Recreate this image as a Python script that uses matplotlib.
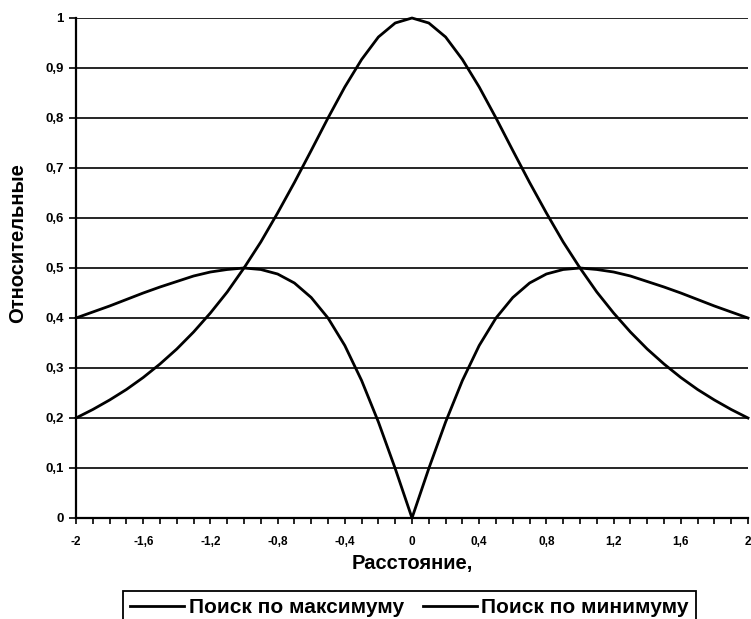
import matplotlib.pyplot as plt

# distance values, step 0.1 from -2 to 2
x = [round(-2 + 0.1 * i, 1) for i in range(41)]

# right half (0 .. 2), mirrored for the left half
max_half = [1.000, 0.990, 0.962, 0.917, 0.862, 0.800, 0.735, 0.671, 0.610, 0.552, 0.500,
            0.452, 0.410, 0.372, 0.338, 0.308, 0.281, 0.257, 0.236, 0.217, 0.200]
min_half = [0.000, 0.099, 0.192, 0.275, 0.345, 0.400, 0.441, 0.470, 0.488, 0.497, 0.500,
            0.497, 0.492, 0.484, 0.473, 0.462, 0.450, 0.437, 0.424, 0.412, 0.400]
search_max = max_half[:0:-1] + max_half
search_min = min_half[:0:-1] + min_half

x_ticks = [-2, -1.6, -1.2, -0.8, -0.4, 0, 0.4, 0.8, 1.2, 1.6, 2]
x_labels = ["-2", "-1,6", "-1,2", "-0,8", "-0,4", "0", "0,4", "0,8", "1,2", "1,6", "2"]
y_ticks = [0, 0.1, 0.2, 0.3, 0.4, 0.5, 0.6, 0.7, 0.8, 0.9, 1]
y_labels = ["0", "0,1", "0,2", "0,3", "0,4", "0,5", "0,6", "0,7", "0,8", "0,9", "1"]

plt.rcParams['font.family'] = ['Liberation Sans', 'DejaVu Sans']
plt.rcParams['font.weight'] = 'bold'

fig = plt.figure(figsize=(7.51, 6.19), dpi=100)
ax = fig.add_axes([76 / 751, 1 - 518 / 619, 672 / 751, 500 / 619])

ax.plot(x, search_max, color='black', lw=2.0, label='Поиск по максимуму', clip_on=False)
ax.plot(x, search_min, color='black', lw=2.0, label='Поиск по минимуму', clip_on=False)

ax.set_xlim(-2, 2)
ax.set_ylim(0, 1)
ax.set_xticks(x_ticks)
ax.set_xticklabels(x_labels, fontsize=8.5, fontweight='bold')
ax.set_xticks(x, minor=True)
ax.set_yticks(y_ticks)
ax.set_yticklabels(y_labels, fontsize=9.5, fontweight='bold')
ax.tick_params(axis='x', which='both', direction='out', length=4, width=1.2, pad=9)
ax.tick_params(axis='y', direction='out', length=5, width=1.2, pad=4)

ax.grid(axis='y', color='black', lw=1.2)
ax.set_axisbelow(True)
for s in ['top', 'right']:
    ax.spines[s].set_visible(False)
for s in ['left', 'bottom']:
    ax.spines[s].set_linewidth(1.6)

ax.set_xlabel('Расстояние,', fontsize=14.5, fontweight='bold', labelpad=4)
ax.set_ylabel('Относительные', fontsize=14.5, fontweight='bold')
ax.yaxis.set_label_coords(-0.073, 0.55)

leg = fig.legend(loc='upper left', bbox_to_anchor=(123 / 751, 1 - 591 / 619),
                 ncol=2, frameon=True, fancybox=False, edgecolor='black',
                 framealpha=1, prop={'size': 15, 'weight': 'bold'}, handlelength=2.6,
                 handletextpad=0.2, columnspacing=0.9, borderpad=0.35,
                 borderaxespad=0)
leg.get_frame().set_linewidth(1.3)

fig.savefig('out.png', dpi=100)
